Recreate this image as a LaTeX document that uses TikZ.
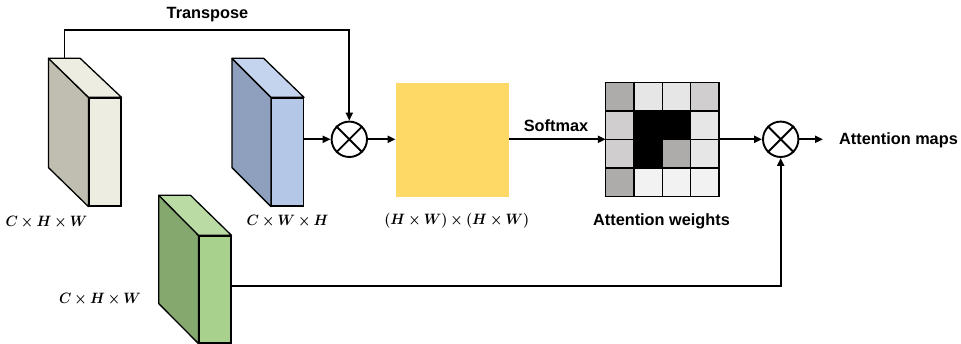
\documentclass[tikz,border=0pt]{standalone}
\usepackage{amsmath,bm}
\usepackage{fontspec}
\setmainfont{Liberation Sans}
\usetikzlibrary{arrows.meta,calc}
\definecolor{beigeS}{HTML}{BFBEB0}
\definecolor{beigeF}{HTML}{EEEDE1}
\definecolor{blueS}{HTML}{8EA0BD}
\definecolor{blueF}{HTML}{B4C7E7}
\definecolor{blueT}{HTML}{C5D4EE}
\definecolor{greenS}{HTML}{85A86F}
\definecolor{greenF}{HTML}{A9D18E}
\definecolor{greenT}{HTML}{BBDBA5}
\definecolor{yel}{HTML}{FFD966}
\definecolor{g1}{HTML}{AEABAB}
\definecolor{g2}{HTML}{E7E6E6}
\definecolor{g3}{HTML}{D0CECE}
\definecolor{g4}{HTML}{F2F2F2}
\tikzset{
  front/.style={draw=black, line width=1.3pt, minimum width=31.7pt, minimum height=108pt, inner sep=0pt},
  face/.style={draw=black, line width=1.3pt, line join=round},
  conn/.style={line width=1.9pt, -{Triangle[length=8pt,width=7pt]}},
  plain/.style={line width=1.9pt},
  mult/.style={circle, draw=black, line width=1.9pt, minimum size=35.4pt, inner sep=0pt, fill=white},
  lbl/.style={font=\fontsize{16.3}{18}\selectfont\bfseries, inner sep=0pt},
  mlbl/.style={font=\fontsize{12}{14}\selectfont, inner sep=0pt},
  cell/.style={draw=black, line width=1.3pt}
}
\newcommand{\crossx}[1]{\draw[line width=1.9pt] (#1.north west) -- (#1.south east) (#1.north east) -- (#1.south west);}
\newcommand{\mtxt}[1]{\scalebox{1.16}[1.25]{$\bm{#1}$}}
\begin{document}
\begin{tikzpicture}[x=1pt,y=-1pt]
\useasboundingbox (0,0) rectangle (961,344);
% box 1
\node[front, fill=beigeF] (b1) at (105,152) {};
\filldraw[face, fill=beigeS] (b1.north west) -- ++(-40,-39) -- ($(b1.south west)+(-40,-39)$) -- (b1.south west) -- cycle;
\filldraw[face, fill=beigeF] (b1.north west) -- ++(-40,-39) -- ++(31.7,0) -- (b1.north east) -- cycle;
\node[front, fill=beigeF] at (b1) {};
% box 2
\node[front, fill=blueF] (b2) at (287.5,152) {};
\filldraw[face, fill=blueS] (b2.north west) -- ++(-39,-39) -- ($(b2.south west)+(-39,-39)$) -- (b2.south west) -- cycle;
\filldraw[face, fill=blueT] (b2.north west) -- ++(-39,-39) -- ++(31.7,0) -- (b2.north east) -- cycle;
\node[front, fill=blueF] at (b2) {};
% box 3
\node[front, fill=greenF, minimum height=107pt] (b3) at (215,289.5) {};
\filldraw[face, fill=greenS] (b3.north west) -- ++(-39.7,-40) -- ($(b3.south west)+(-39.7,-40)$) -- (b3.south west) -- cycle;
\filldraw[face, fill=greenT] (b3.north west) -- ++(-39.7,-40) -- ++(31.7,0) -- (b3.north east) -- cycle;
\node[front, fill=greenF, minimum height=107pt] at (b3) {};
% multipliers
\node[mult] (c1) at (349.3,139.3) {};
\crossx{c1}
\node[mult] (c2) at (780.7,139.3) {};
\crossx{c2}
% yellow matrix
\node[fill=yel, minimum width=113.3pt, minimum height=113.7pt, inner sep=0pt] (y) at (452.4,139.8) {};
% grid
\node[minimum width=113.2pt, minimum height=113.6pt, inner sep=0pt] (g) at (662.6,139.7) {};
\foreach \r/\cols in {0/{g1,g2,g2,g3},1/{g3,black,black,g2},2/{g3,black,g1,g2},3/{g1,g4,g4,g4}}{
  \foreach \c [count=\i from 0] in \cols {
    \filldraw[cell, fill=\c] ($(g.north west)+(28.3*\i,28.4*\r)$) rectangle ++(28.3,28.4);
  }
}
% connectors
\coordinate (t0) at ($(b1.north west)+(-24,-39)$);
\draw[conn] (t0) -- ++(0,-28) -| (c1.north);
\draw[conn] (b2.east |- c1) -- (c1.west);
\draw[conn] (c1.east) -- (y.west |- c1);
\draw[conn] (y.east |- c1) -- (g.west |- c1);
\draw[conn] (g.east |- c2) -- (c2.west);
\coordinate (out) at (823,139.3);
\draw[conn] (c2.east) -- (out);
\coordinate (gb) at ($(b3.east)+(0,-3.8)$);
\draw[conn] (gb) -| (c2.south);
% labels
\node[lbl] (tl) at (207.5,15) {Transpose};
\node[lbl] (sl) at (556,125.7) {Softmax};
\node[lbl] (al) at (661.5,221.7) {Attention weights};
\node[lbl, anchor=west] (ml) at (839,140) {Attention maps};
\node[mlbl] (l1) at (46.5,222.7) {\mtxt{C\times H\times W}};
\node[mlbl] (l2) at (287.5,221) {\mtxt{C\times W\times H}};
\node[mlbl] (l3) at (456.7,221) {\mtxt{(H\times W)\times(H\times W)}};
\node[mlbl] (l4) at (100,299) {\mtxt{C\times H\times W}};
\end{tikzpicture}
\end{document}
